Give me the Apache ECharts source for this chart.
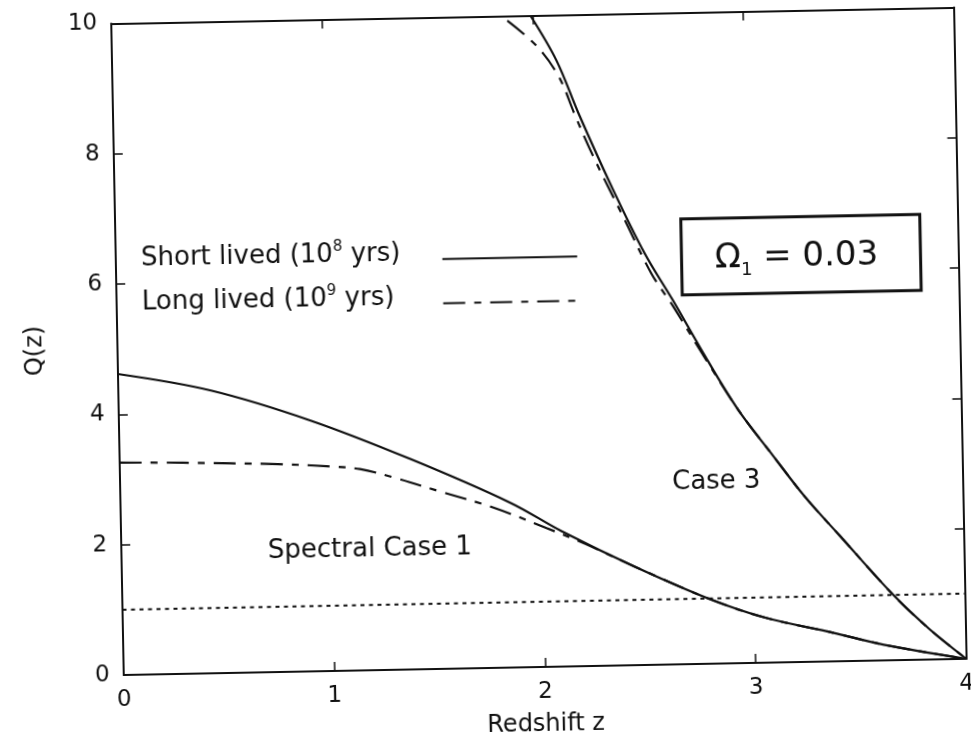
<!DOCTYPE html>
<html>
<head>
<meta charset="utf-8">
<script src="https://cdn.jsdelivr.net/npm/echarts@6/dist/echarts.min.js"></script>
<style>
  html, body { margin: 0; padding: 0; background: #fff; overflow: hidden; }
  #main { width: 971px; height: 743px; transform: rotate(-1.1deg); transform-origin: 50% 50%; }
</style>
</head>
<body>
<div id="main"></div>
<script>
// Axis ranges and tick spacing
const zRange = [0, 4];
const zStep = 1;
const qRange = [0, 10];
const qStep = 2;

// Spectral case 1, Q(z)
const case1Short = [[0, 4.62], [0.44, 4.34], [0.91, 3.85], [1.38, 3.23], [1.85, 2.53], [2.09, 2.08],
  [2.43, 1.52], [2.79, 0.99], [3.05, 0.69], [3.37, 0.44], [3.61, 0.24], [4, 0]];
const case1Long = [[0, 3.26], [0.3, 3.24], [0.75, 3.19], [1.0, 3.14], [1.14, 3.09], [1.3, 2.95],
  [1.53, 2.71], [1.77, 2.46], [2.02, 2.13], [2.2, 1.88], [2.43, 1.52], [2.79, 0.99],
  [3.05, 0.69], [3.37, 0.44], [3.61, 0.24], [4, 0]];

// Case 3, Q(z)
const case3Short = [[1.99, 10], [2.11, 9.3], [2.21, 8.48], [2.36, 7.35], [2.51, 6.32], [2.64, 5.59],
  [2.79, 4.71], [2.94, 3.89], [3.10, 3.18], [3.25, 2.53], [3.41, 1.93], [3.66, 1.0], [3.83, 0.46], [4, 0]];
const case3Long = [[1.88, 9.93], [2.02, 9.52], [2.12, 9.05], [2.19, 8.48], [2.27, 7.86], [2.42, 6.83],
  [2.54, 6.01], [2.64, 5.5], [2.79, 4.68], [2.94, 3.89], [3.10, 3.18], [3.25, 2.53], [3.41, 1.93],
  [3.66, 1.0], [3.83, 0.46], [4, 0]];

// Reference level Q = 1
const unity = [[0, 1], [4, 1]];

const FONT = 'DejaVu Sans';
const INK = '#111';
const dashDot = [22, 9, 7, 9];

const chart = echarts.init(document.getElementById('main'), null, { renderer: 'canvas' });

function frameAxis(position, showLabels, step, min, max, extra) {
  return Object.assign({
    type: 'value', position: position, min: min, max: max, interval: step,
    axisLine: { show: true, onZero: false, lineStyle: { color: INK, width: 2 } },
    axisTick: { show: true, inside: true, length: 9, lineStyle: { color: INK, width: 1.5 } },
    axisLabel: { show: showLabels, color: INK, fontSize: 23, fontFamily: FONT, margin: 14 },
    splitLine: { show: false }
  }, extra || {});
}

function lineSeries(data, type, width) {
  return {
    type: 'line', data: data, showSymbol: false, smooth: 0.35, silent: true,
    lineStyle: { color: INK, width: width, type: type }, z: 3
  };
}

chart.setOption({
  animation: false,
  backgroundColor: '#fff',
  grid: { left: 118, top: 16.5, width: 843, height: 653, containLabel: false },
  xAxis: [
    frameAxis('bottom', true, zStep, zRange[0], zRange[1], {
      name: 'Redshift z', nameLocation: 'middle', nameGap: 46,
      nameTextStyle: { color: INK, fontSize: 24, fontFamily: FONT }
    }),
    frameAxis('top', false, zStep, zRange[0], zRange[1])
  ],
  yAxis: [
    frameAxis('left', true, qStep, qRange[0], qRange[1], {
      name: 'Q(z)', nameLocation: 'middle', nameGap: 70,
      nameTextStyle: { color: INK, fontSize: 24, fontFamily: FONT }
    }),
    frameAxis('right', false, qStep, qRange[0], qRange[1])
  ],
  series: [
    Object.assign(lineSeries(unity, [4, 4.5], 2), { smooth: false }),
    lineSeries(case1Short, 'solid', 2.2),
    lineSeries(case1Long, dashDot, 2.2),
    lineSeries(case3Short, 'solid', 2.2),
    lineSeries(case3Long, dashDot, 2.2)
  ]
});

// Annotations placed in data space
const px = (p) => chart.convertToPixel({ gridIndex: 0 }, p);
const shortTxt = px([0.12, 6.38]);
const longTxt = px([0.12, 5.70]);
const legA1 = px([1.55, 6.29]), legA2 = px([2.19, 6.29]);
const legB1 = px([1.55, 5.61]), legB2 = px([2.19, 5.61]);
const boxC = px([3.25, 6.25]);
const spec = px([1.18, 1.86]);
const c3 = px([2.83, 2.79]);

const richSup = {
  sup: { fontSize: 15, fontFamily: FONT, fill: INK, verticalAlign: 'top', lineHeight: 32 }
};

chart.setOption({
  graphic: [
    { type: 'text', x: shortTxt[0], y: shortTxt[1],
      style: { text: 'Short lived (10{sup|8} yrs)', fill: INK, fontSize: 26, fontFamily: FONT,
        verticalAlign: 'middle', align: 'left', rich: richSup, lineHeight: 32 } },
    { type: 'text', x: longTxt[0], y: longTxt[1],
      style: { text: 'Long lived (10{sup|9} yrs)', fill: INK, fontSize: 26, fontFamily: FONT,
        verticalAlign: 'middle', align: 'left', rich: richSup, lineHeight: 32 } },
    { type: 'line', shape: { x1: legA1[0], y1: legA1[1], x2: legA2[0], y2: legA2[1] },
      style: { stroke: INK, lineWidth: 2 } },
    { type: 'line', shape: { x1: legB1[0], y1: legB1[1], x2: legB2[0], y2: legB2[1] },
      style: { stroke: INK, lineWidth: 2, lineDash: dashDot } },
    { type: 'rect', shape: { x: boxC[0] - 119, y: boxC[1] - 38, width: 239, height: 76 },
      style: { fill: 'none', stroke: INK, lineWidth: 3 } },
    { type: 'text', x: boxC[0] - 4, y: boxC[1] + 2,
      style: { text: 'Ω{sub|1} = 0.03', fill: INK, fontSize: 34, fontFamily: FONT,
        align: 'center', verticalAlign: 'middle', lineHeight: 44,
        rich: { sub: { fontSize: 18, fontFamily: FONT, fill: INK, verticalAlign: 'bottom', lineHeight: 44 } } } },
    { type: 'text', x: spec[0], y: spec[1],
      style: { text: 'Spectral Case 1', fill: INK, fontSize: 26, fontFamily: FONT,
        align: 'center', verticalAlign: 'middle' } },
    { type: 'text', x: c3[0], y: c3[1],
      style: { text: 'Case 3', fill: INK, fontSize: 26, fontFamily: FONT,
        align: 'center', verticalAlign: 'middle' } }
  ]
});
</script>
</body>
</html>
